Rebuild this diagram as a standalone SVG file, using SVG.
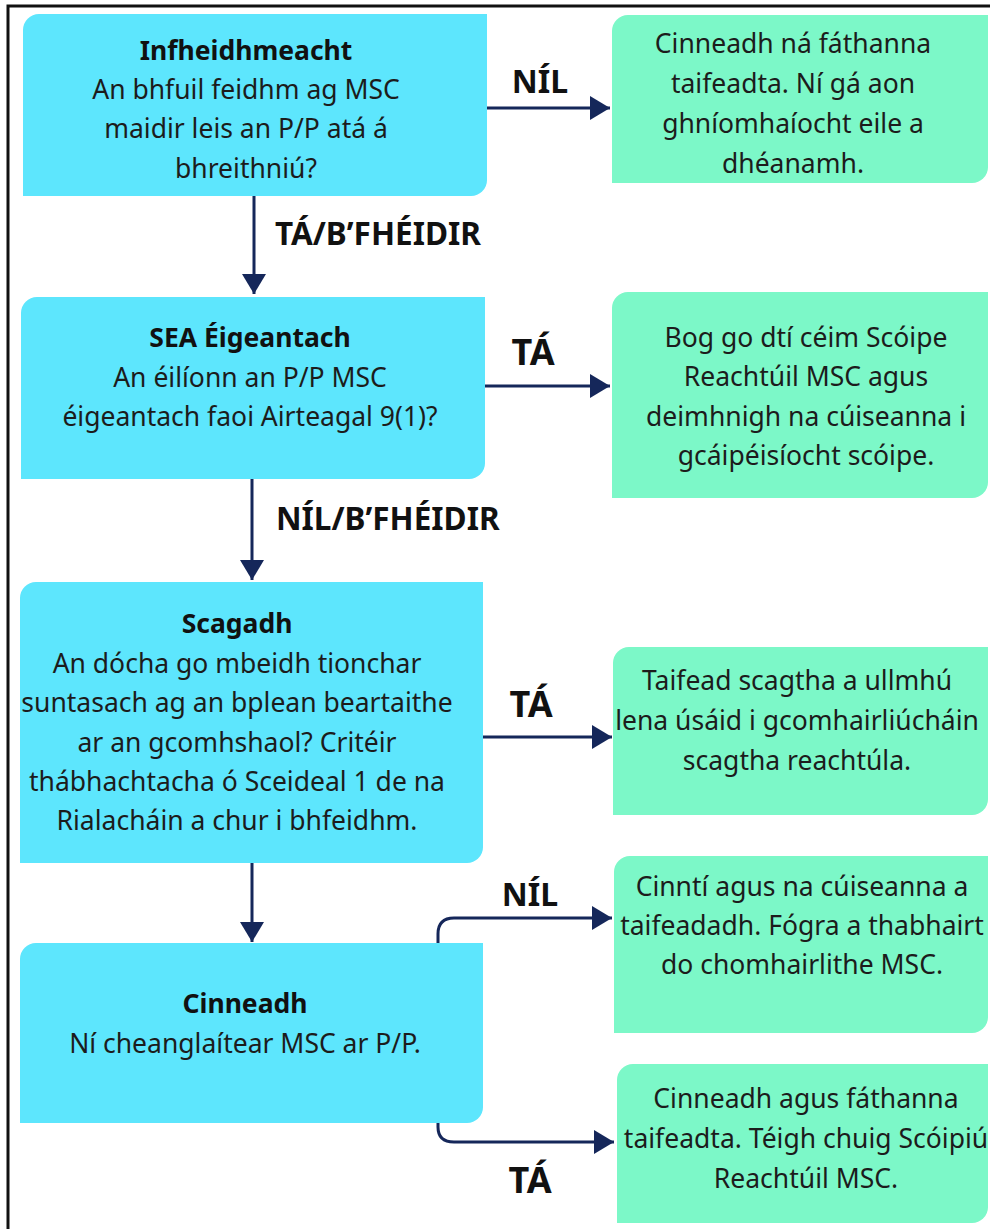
<svg xmlns="http://www.w3.org/2000/svg" width="990" height="1229" viewBox="0 0 990 1229">
<defs>
<style>
.blue{fill:#5de6fd}
.green{fill:#7cf8c8}
.t{font-family:"Noto Sans","Open Sans","DejaVu Sans",sans-serif;font-size:26.5px;fill:#1c1c1c;text-anchor:middle}
.b{font-weight:bold;fill:#111}
.lbl{font-family:"Noto Sans","Open Sans","DejaVu Sans",sans-serif;font-weight:bold;font-size:31.5px;fill:#111}
.ta{font-size:36px}
.nil{font-size:32px}
.c{fill:none;stroke:#15275a;stroke-width:3;marker-end:url(#ah)}
</style>
<marker id="ah" markerUnits="userSpaceOnUse" viewBox="0 0 20 24" markerWidth="20" markerHeight="24" refX="20" refY="12" orient="auto">
<path d="M0,0 L20,12 L0,24 Z" fill="#15275a"/>
</marker>
</defs>
<rect width="990" height="1229" fill="#fff"/>
<path d="M8,1229 V6 H990" fill="none" stroke="#111" stroke-width="3"/>

<g id="connectors">
<path class="c" d="M487,108 H610"/>
<path class="c" d="M254,196 V294"/>
<path class="c" d="M485,386 H610"/>
<path class="c" d="M252,479 V580"/>
<path class="c" d="M483,737 H612"/>
<path class="c" d="M252,863 V942"/>
<path class="c" d="M438,943 V934 Q438,918 454,918 H612"/>
<path class="c" d="M438,1123 V1127 Q438,1142 454,1142 H614"/>
<text class="lbl nil" x="540" y="93" text-anchor="middle">NÍL</text>
<text class="lbl" x="275" y="245">TÁ/B’FHÉIDIR</text>
<text class="lbl ta" x="533" y="365" text-anchor="middle">TÁ</text>
<text class="lbl" x="276" y="530">NÍL/B’FHÉIDIR</text>
<text class="lbl ta" x="531" y="717" text-anchor="middle">TÁ</text>
<text class="lbl nil" x="530" y="906" text-anchor="middle">NÍL</text>
<text class="lbl ta" x="530" y="1193" text-anchor="middle">TÁ</text>
</g>

<g id="n1">
<path class="blue" d="M39,14 H487 V180 A16,16 0 0 1 471,196 H23 V30 A16,16 0 0 1 39,14 Z"/>
<text class="t b" x="246" y="60">Infheidhmeacht</text>
<text class="t" x="246" y="99">An bhfuil feidhm ag MSC</text>
<text class="t" x="246" y="138">maidir leis an P/P atá á</text>
<text class="t" x="246" y="178">bhreithniú?</text>
</g>

<g id="n2">
<path class="green" d="M628,15 H988 V167 A16,16 0 0 1 972,183 H612 V31 A16,16 0 0 1 628,15 Z"/>
<text class="t" x="793" y="53">Cinneadh ná fáthanna</text>
<text class="t" x="793" y="93">taifeadta. Ní gá aon</text>
<text class="t" x="793" y="133">ghníomhaíocht eile a</text>
<text class="t" x="793" y="173">dhéanamh.</text>
</g>

<g id="n3">
<path class="blue" d="M37,297 H485 V463 A16,16 0 0 1 469,479 H21 V313 A16,16 0 0 1 37,297 Z"/>
<text class="t b" x="250" y="347">SEA Éigeantach</text>
<text class="t" x="250" y="387">An éilíonn an P/P MSC</text>
<text class="t" x="250" y="426">éigeantach faoi Airteagal 9(1)?</text>
</g>

<g id="n4">
<path class="green" d="M628,292 H988 V482 A16,16 0 0 1 972,498 H612 V308 A16,16 0 0 1 628,292 Z"/>
<text class="t" x="806" y="347">Bog go dtí céim Scóipe</text>
<text class="t" x="806" y="386">Reachtúil MSC agus</text>
<text class="t" x="806" y="426">deimhnigh na cúiseanna i</text>
<text class="t" x="806" y="465">gcáipéisíocht scóipe.</text>
</g>

<g id="n5">
<path class="blue" d="M36,582 H483 V847 A16,16 0 0 1 467,863 H20 V598 A16,16 0 0 1 36,582 Z"/>
<text class="t b" x="237" y="633">Scagadh</text>
<text class="t" x="237" y="673">An dócha go mbeidh tionchar</text>
<text class="t" x="237" y="712">suntasach ag an bplean beartaithe</text>
<text class="t" x="237" y="752">ar an gcomhshaol? Critéir</text>
<text class="t" x="237" y="791">thábhachtacha ó Sceideal 1 de na</text>
<text class="t" x="237" y="830">Rialacháin a chur i bhfeidhm.</text>
</g>

<g id="n6">
<path class="green" d="M629,647 H988 V799 A16,16 0 0 1 972,815 H613 V663 A16,16 0 0 1 629,647 Z"/>
<text class="t" x="797" y="690">Taifead scagtha a ullmhú</text>
<text class="t" x="797" y="730">lena úsáid i gcomhairliúcháin</text>
<text class="t" x="797" y="770">scagtha reachtúla.</text>
</g>

<g id="n7">
<path class="blue" d="M36,943 H483 V1107 A16,16 0 0 1 467,1123 H20 V959 A16,16 0 0 1 36,943 Z"/>
<text class="t b" x="245" y="1013">Cinneadh</text>
<text class="t" x="245" y="1053">Ní cheanglaítear MSC ar P/P.</text>
</g>

<g id="n8">
<path class="green" d="M630,856 H988 V1017 A16,16 0 0 1 972,1033 H614 V872 A16,16 0 0 1 630,856 Z"/>
<text class="t" x="802" y="896">Cinntí agus na cúiseanna a</text>
<text class="t" x="802" y="935">taifeadadh. Fógra a thabhairt</text>
<text class="t" x="802" y="974">do chomhairlithe MSC.</text>
</g>

<g id="n9">
<path class="green" d="M633,1064 H988 V1207 A16,16 0 0 1 972,1223 H617 V1080 A16,16 0 0 1 633,1064 Z"/>
<text class="t" x="806" y="1108">Cinneadh agus fáthanna</text>
<text class="t" x="806" y="1148">taifeadta. Téigh chuig Scóipiú</text>
<text class="t" x="806" y="1188">Reachtúil MSC.</text>
</g>
</svg>
